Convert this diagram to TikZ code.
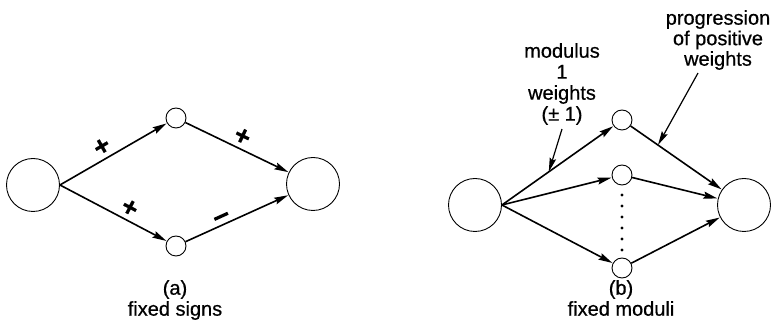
\documentclass[tikz,border=0pt]{standalone}
\usepackage{fontspec}
\setmainfont{Liberation Sans}[FakeBold=0.6]
\usetikzlibrary{arrows.meta}

\begin{document}
\begin{tikzpicture}[x=1pt, y=-1pt,
  big/.style={circle, draw, line width=0.9pt, minimum size=53pt, inner sep=0pt},
  small/.style={circle, draw, line width=0.9pt, minimum size=20pt, inner sep=0pt},
  wire/.style={line width=1.6pt, -{Stealth[length=14pt, width=7pt, inset=2pt]}, shorten >=0.4pt},
  pointer/.style={line width=1.2pt, -{Stealth[length=14pt, width=6.5pt, inset=2pt]}},
  lbl/.style={font=\fontsize{20}{21}\selectfont, align=center, inner sep=0pt},
  sign/.style={sloped, above, inner sep=3pt, font=\fontsize{27}{27}\selectfont\bfseries}
]
\useasboundingbox (0,0) rectangle (777,336);

% (a) fixed signs
\node[big]   (a1) at (33,185)  {};
\node[small] (a2) at (176,118) {};
\node[small] (a3) at (176,246) {};
\node[big]   (a4) at (313,184) {};

\draw[wire] (a1.east) -- (a2) node[sign, pos=0.45] {+};
\draw[wire] (a1.east) -- (a3) node[sign, pos=0.6]  {+};
\draw[wire] (a2) -- (a4) node[sign, pos=0.5] {+};
\draw[wire] (a3) -- (a4) node[sign, pos=0.38, inner sep=6pt] {\rule{0.55em}{0.12em}};

\node[lbl, anchor=north] (capa) at (175,280) {(a)\\fixed signs};

% (b) fixed moduli
\node[big]   (b1) at (475,205) {};
\node[small] (b2) at (622,120) {};
\node[small] (b3) at (622,175) {};
\node[small] (b4) at (622,268) {};
\node[big]   (b5) at (744,205) {};

\draw[wire] (b1.east) -- (b2) coordinate[pos=0.42] (m1);
\draw[wire] (b1.east) -- (b3);
\draw[wire] (b1.east) -- (b4);
\draw[wire] (b2) -- (b5) coordinate[pos=0.3] (m2);
\draw[wire] (b3) -- (b5);
\draw[wire] (b4) -- (b5);

% column of dots between the middle and lowest hidden unit
\foreach \yy in {195,206,217,228,239,250}
  \fill (622,\yy) circle (1.6pt);

\node[lbl, anchor=north] (t1) at (562,43) {modulus\\1\\weights\\(± 1)};
\node[lbl, anchor=north, font=\fontsize{20}{20.5}\selectfont] (t2) at (718,10)
  {progression\\of positive\\weights};

\draw[pointer] ([yshift=-4pt]t1.south) -- (m1);
\draw[pointer] ([xshift=-20pt, yshift=-3pt]t2.south) -- (m2);

\node[lbl, anchor=north] (capb) at (621,280) {(b)\\fixed moduli};
\end{tikzpicture}
\end{document}
